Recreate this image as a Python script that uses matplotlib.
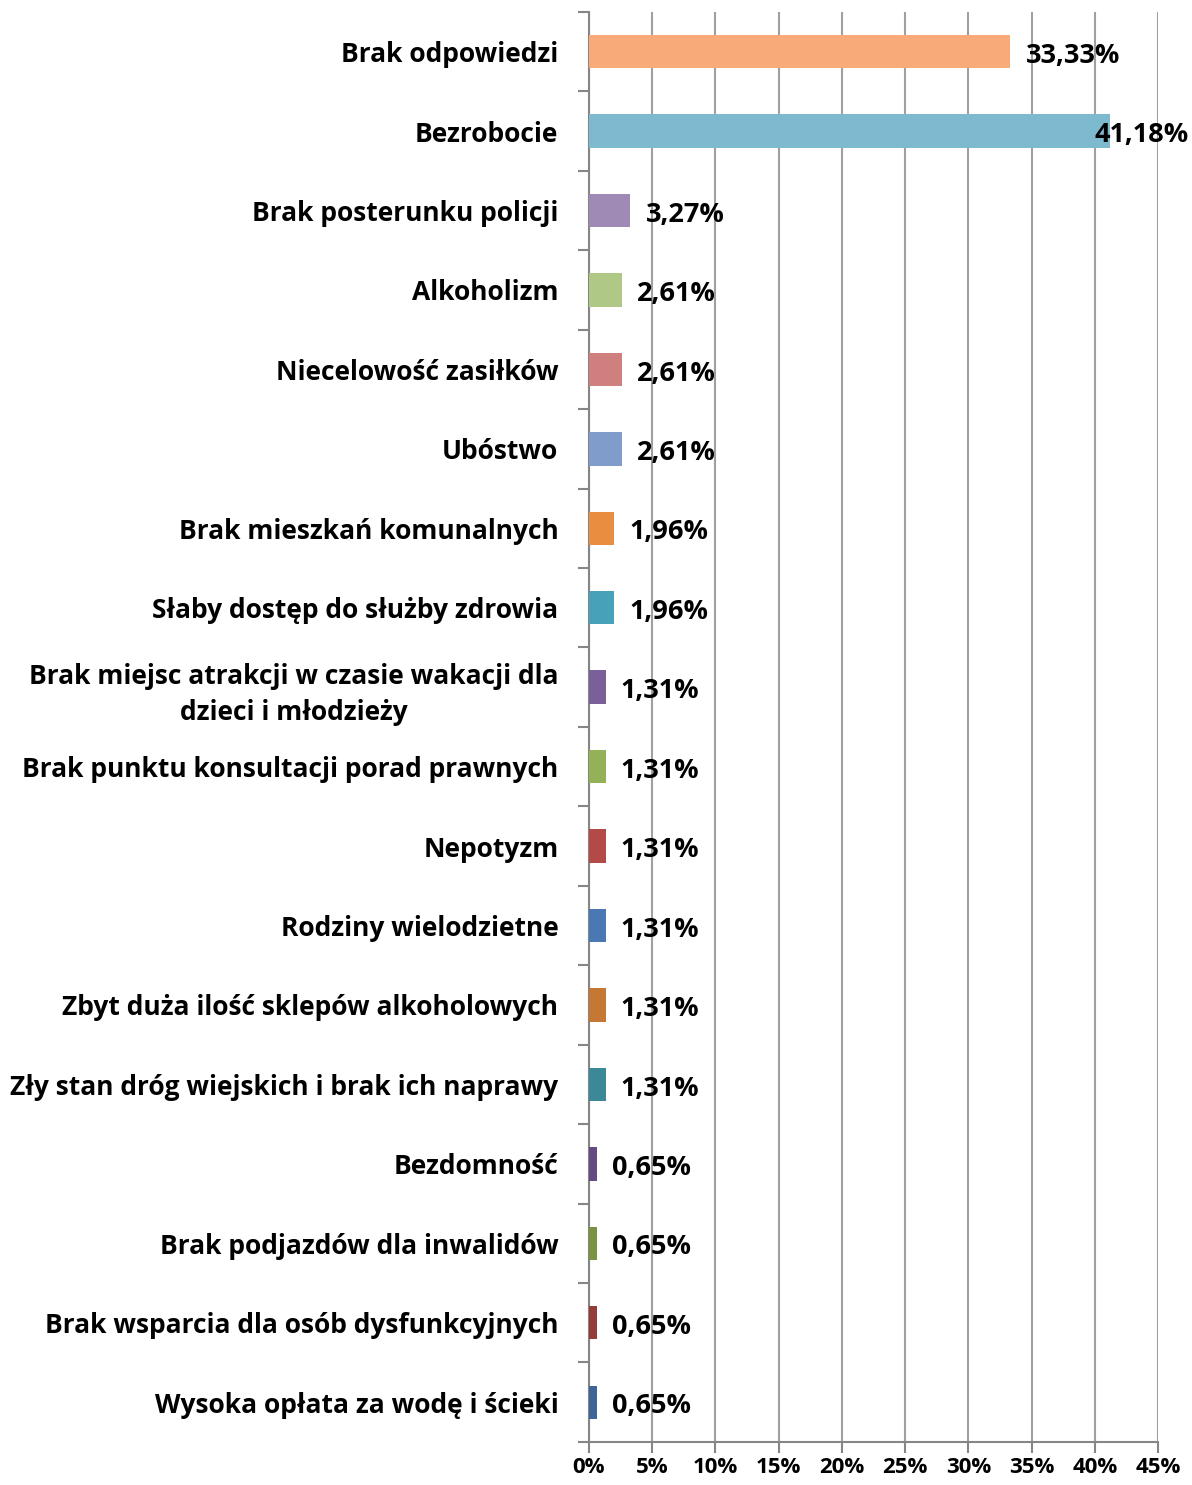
import matplotlib
matplotlib.use('Agg')
import matplotlib.pyplot as plt
import matplotlib.transforms as mtransforms
import numpy as np

categories = ['Brak odpowiedzi', 'Bezrobocie', 'Brak posterunku policji', 'Alkoholizm',
              'Niecelowość zasiłków', 'Ubóstwo', 'Brak mieszkań komunalnych',
              'Słaby dostęp do służby zdrowia',
              'Brak miejsc atrakcji w czasie wakacji dla\ndzieci i młodzieży',
              'Brak punktu konsultacji porad prawnych', 'Nepotyzm', 'Rodziny wielodzietne',
              'Zbyt duża ilość sklepów alkoholowych', 'Zły stan dróg wiejskich i brak ich naprawy',
              'Bezdomność', 'Brak podjazdów dla inwalidów', 'Brak wsparcia dla osób dysfunkcyjnych',
              'Wysoka opłata za wodę i ścieki']
values = [33.33, 41.18, 3.27, 2.61, 2.61, 2.61, 1.96, 1.96, 1.31, 1.31, 1.31, 1.31, 1.31, 1.31,
          0.65, 0.65, 0.65, 0.65]
colors = ['#F8AB78', '#7EBACF', '#9F89B5', '#B0C886', '#CF7F7E', '#7F9CCB', '#E98E40',
          '#47A1B9', '#7A5F99', '#93B157', '#B44A47', '#4A78B3', '#C57833', '#3B8898',
          '#644C82', '#7A9343', '#953B39', '#3D6597']
xticks = [0, 5, 10, 15, 20, 25, 30, 35, 40, 45]

plt.rcParams['font.family'] = ['Open Sans', 'DejaVu Sans']
plt.rcParams['font.weight'] = 'bold'

fig = plt.figure(figsize=(11.92, 14.85), dpi=100)
ax = fig.add_axes([0.4941, 0.029, 0.4774, 0.963])

y = np.arange(len(categories))
ax.barh(y, values, height=0.42, color=colors, zorder=3)
ax.set_ylim(len(categories) - 0.5, -0.5)
ax.set_xlim(0, 45)

ax.set_xticks(xticks)
ax.set_xticklabels(['%d%%' % t for t in xticks], fontsize=16, fontweight='bold')
ax.set_yticks(y)
ax.set_yticklabels(categories, fontsize=19, fontweight='bold', multialignment='center',
                   linespacing=1.4)
ax.set_yticks(np.arange(len(categories) + 1) - 0.5, minor=True)
ax.tick_params(axis='y', which='major', length=0, pad=22)
ax.tick_params(axis='y', which='minor', length=8, color='#868686', width=1.5)
ax.tick_params(axis='x', length=8, color='#868686', width=1.5, pad=3)

ax.grid(axis='x', color='#A0A0A0', linewidth=1.5, zorder=0)
for s in ['top', 'right']:
    ax.spines[s].set_visible(False)
for s in ['left', 'bottom']:
    ax.spines[s].set_color('#868686')
    ax.spines[s].set_linewidth(1.5)

trans = mtransforms.blended_transform_factory(fig.transFigure, ax.transData)
shift = mtransforms.ScaledTranslation(0, -3 / 72, fig.dpi_scale_trans)
for yi, v in zip(y, values):
    txt = ('%.2f%%' % v).replace('.', ',')
    if v > 40:
        ax.text(0.997, yi, txt, transform=trans + shift, ha='right', va='center',
                fontsize=19.5, fontweight='bold', zorder=4)
    else:
        ax.annotate(txt, xy=(v, yi), xytext=(11, -3), textcoords='offset points',
                    ha='left', va='center', fontsize=19.5, fontweight='bold', zorder=4)

fig.savefig('out.png', dpi=100)
